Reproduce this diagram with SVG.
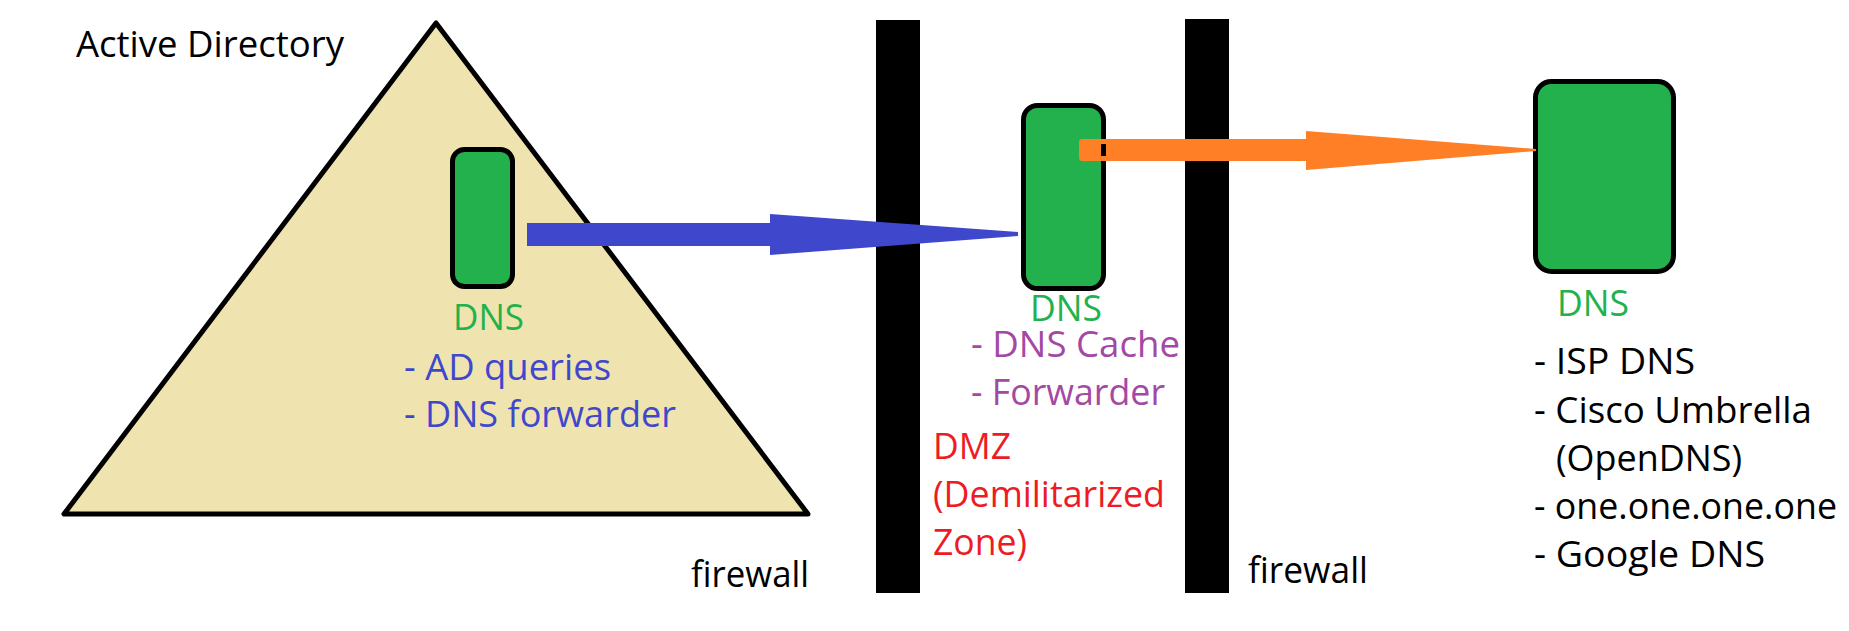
<svg xmlns="http://www.w3.org/2000/svg" width="1849" height="631" viewBox="0 0 1849 631">
<style>
text{font-family:"Open Sans","Noto Sans","Liberation Sans",sans-serif;font-size:37px}
.k{fill:#000}
.g{fill:#22b14c}
.b{fill:#3f48cc}
.p{fill:#a349a4}
.r{fill:#ed1c24}
.srv{fill:#22b14c;stroke:#000;stroke-width:5}
.fw{fill:#000}
</style>
<rect width="1849" height="631" fill="#fff"/>
<g id="active-directory">
<polygon points="436,23 64,514 808,514" fill="#efe4b0" stroke="#000" stroke-width="5" stroke-linejoin="round"/>
<text class="k" x="76" y="57" textLength="268" lengthAdjust="spacingAndGlyphs">Active Directory</text>
</g>
<g id="firewall-1">
<rect class="fw" x="876" y="20" width="44" height="573"/>
<text class="k" x="691" y="587" textLength="118" lengthAdjust="spacingAndGlyphs">firewall</text>
</g>
<g id="firewall-2">
<rect class="fw" x="1185" y="19" width="44" height="574"/>
<text class="k" x="1248" y="583" textLength="120" lengthAdjust="spacingAndGlyphs">firewall</text>
</g>
<g id="ad-dns">
<rect class="srv" x="452.5" y="149.5" width="60" height="137" rx="12"/>
<text class="g" x="453" y="330" textLength="71" lengthAdjust="spacingAndGlyphs">DNS</text>
<text class="b" x="404" y="380" textLength="207" lengthAdjust="spacingAndGlyphs">- AD queries</text>
<text class="b" x="404" y="427" textLength="272" lengthAdjust="spacingAndGlyphs">- DNS forwarder</text>
</g>
<g id="dmz-dns">
<rect class="srv" x="1023.5" y="105.5" width="80" height="183" rx="14"/>
<text class="g" x="1030" y="321" textLength="72" lengthAdjust="spacingAndGlyphs">DNS</text>
<text class="p" x="971" y="357" textLength="209" lengthAdjust="spacingAndGlyphs">- DNS Cache</text>
<text class="p" x="971" y="405" textLength="194" lengthAdjust="spacingAndGlyphs">- Forwarder</text>
<text class="r" x="933" y="459" textLength="78" lengthAdjust="spacingAndGlyphs">DMZ</text>
<text class="r" x="933" y="507" textLength="232" lengthAdjust="spacingAndGlyphs">(Demilitarized</text>
<text class="r" x="933" y="555" textLength="94" lengthAdjust="spacingAndGlyphs">Zone)</text>
</g>
<g id="public-dns">
<rect class="srv" x="1535.5" y="81.5" width="138" height="190" rx="16"/>
<text class="g" x="1557" y="316" textLength="72" lengthAdjust="spacingAndGlyphs">DNS</text>
<text class="k" x="1534" y="374" textLength="161" lengthAdjust="spacingAndGlyphs">- ISP DNS</text>
<text class="k" x="1534" y="423" textLength="278" lengthAdjust="spacingAndGlyphs">- Cisco Umbrella</text>
<text class="k" x="1556" y="471" textLength="186" lengthAdjust="spacingAndGlyphs">(OpenDNS)</text>
<text class="k" x="1534" y="519" textLength="303" lengthAdjust="spacingAndGlyphs">- one.one.one.one</text>
<text class="k" x="1534" y="567" textLength="231" lengthAdjust="spacingAndGlyphs">- Google DNS</text>
</g>
<g id="connectors">
<polygon points="527,223 770,223 770,214 1018,232 1018,236 770,255 770,246 527,246" fill="#3f48cc"/>
<polygon points="1079,141 1081,139 1306,139 1306,131 1536,149 1536,151 1306,170 1306,161 1081,161 1079,159" fill="#ff7f27"/>
<rect x="1101" y="144" width="5" height="12" fill="#000"/>
</g>
</svg>
